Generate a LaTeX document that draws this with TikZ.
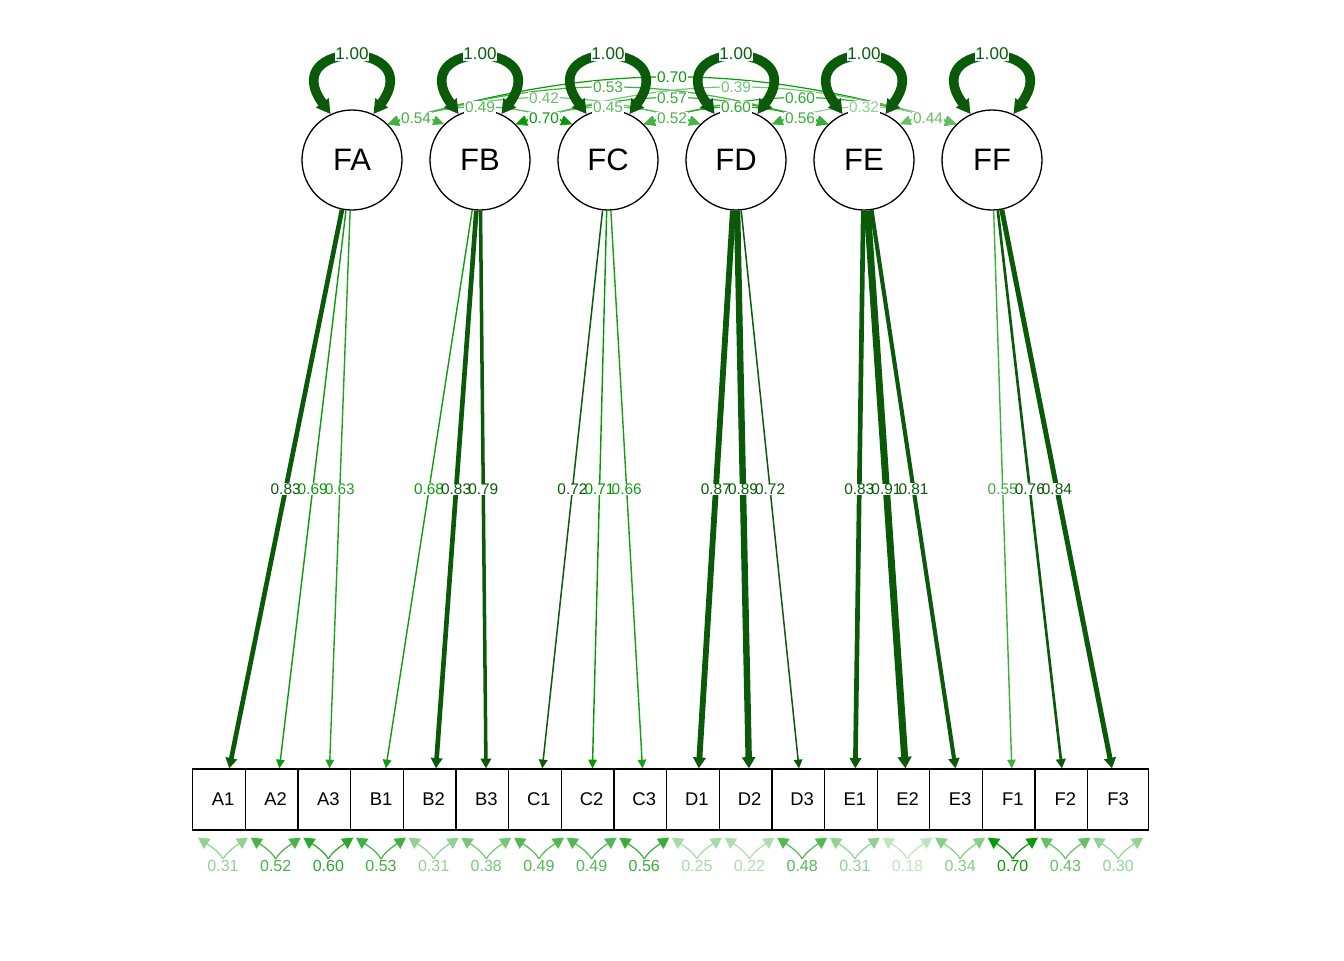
\documentclass[tikz,border=0pt]{standalone}
\usepackage{fontspec}
\setmainfont{Liberation Sans}
\usetikzlibrary{arrows.meta,calc}
\definecolor{G}{RGB}{0,150,0}
\definecolor{D}{RGB}{10,90,10}
\begin{document}
\begin{tikzpicture}[x=0.5pt,y=-0.5pt,
  lat/.style={circle,draw,line width=0.65pt,minimum size=50pt,inner sep=0pt,fill=white,font=\fontsize{15.5}{16}\selectfont},
  obs/.style={rectangle,draw,line width=0.65pt,minimum width=30.35pt,minimum height=30.5pt,inner sep=0pt,fill=white,font=\fontsize{9.2}{10}\selectfont},
  lab/.style={fill=white,inner sep=0.4pt,font=\fontsize{7.7}{8}\selectfont},
  lbg/.style={fill=white,inner sep=0.2pt,font=\fontsize{7.7}{8}\selectfont},
  ltx/.style={inner sep=0.4pt,font=\fontsize{7.7}{8}\selectfont},
  vlab/.style={fill=white,inner sep=0.4pt,font=\fontsize{8.5}{9}\selectfont},
  rlab/.style={fill=white,inner sep=0.4pt,font=\fontsize{8}{9}\selectfont},
  ld/.style={-{Triangle[length=4pt 0.5,width=3.6pt 0.9]}},
  thin/.style={line width=0.7pt},
  cv/.style={line width=0.6pt,{Triangle[length=5.5pt,width=4.8pt]}-{Triangle[length=5.5pt,width=4.8pt]}},
  vl/.style={D,line width=4.8pt,{Triangle[length=7pt,width=7.5pt]}-{Triangle[length=7pt,width=7.5pt]}},
  rs/.style={line width=0.6pt,{Triangle[length=5.5pt,width=6pt]}-{Triangle[length=5.5pt,width=6pt]}}
]
\useasboundingbox (0,0) rectangle (1344,960);
% latent variables
\node[lat] (FA) at (352,160) {FA};
\node[lat] (FB) at (480,160) {FB};
\node[lat] (FC) at (608,160) {FC};
\node[lat] (FD) at (736,160) {FD};
\node[lat] (FE) at (864,160) {FE};
\node[lat] (FF) at (992,160) {FF};
% observed variables
\node[obs] (A1) at (223.05,799.5) {A1};
\node[obs] (A2) at (275.70,799.5) {A2};
\node[obs] (A3) at (328.35,799.5) {A3};
\node[obs] (B1) at (381.00,799.5) {B1};
\node[obs] (B2) at (433.65,799.5) {B2};
\node[obs] (B3) at (486.30,799.5) {B3};
\node[obs] (C1) at (538.95,799.5) {C1};
\node[obs] (C2) at (591.60,799.5) {C2};
\node[obs] (C3) at (644.25,799.5) {C3};
\node[obs] (D1) at (696.90,799.5) {D1};
\node[obs] (D2) at (749.55,799.5) {D2};
\node[obs] (D3) at (802.20,799.5) {D3};
\node[obs] (E1) at (854.85,799.5) {E1};
\node[obs] (E2) at (907.50,799.5) {E2};
\node[obs] (E3) at (960.15,799.5) {E3};
\node[obs] (F1) at (1012.80,799.5) {F1};
\node[obs] (F2) at (1065.45,799.5) {F2};
\node[obs] (F3) at (1118.10,799.5) {F3};
% loadings (label backgrounds placed on the edges, texts drawn afterwards)
\draw[ld,D,line width=2.34pt] (FA) -- (A1) node[lbg,pos=0.5] (lA1) {\phantom{0.83}};
\draw[ld,G!96,thin] (FA) -- (A2) node[lbg,pos=0.5] (lA2) {\phantom{0.69}};
\draw[ld,G!88,thin] (FA) -- (A3) node[lbg,pos=0.5] (lA3) {\phantom{0.63}};
\draw[ld,G!94,thin] (FB) -- (B1) node[lbg,pos=0.5] (lB1) {\phantom{0.68}};
\draw[ld,D,line width=2.34pt] (FB) -- (B2) node[lbg,pos=0.5] (lB2) {\phantom{0.83}};
\draw[ld,D,line width=1.76pt] (FB) -- (B3) node[lbg,pos=0.5] (lB3) {\phantom{0.79}};
\draw[ld,D,line width=0.75pt] (FC) -- (C1) node[lbg,pos=0.5] (lC1) {\phantom{0.72}};
\draw[ld,G!99,thin] (FC) -- (C2) node[lbg,pos=0.5] (lC2) {\phantom{0.71}};
\draw[ld,G!92,thin] (FC) -- (C3) node[lbg,pos=0.5] (lC3) {\phantom{0.66}};
\draw[ld,D,line width=2.92pt] (FD) -- (D1) node[lbg,pos=0.5] (lD1) {\phantom{0.87}};
\draw[ld,D,line width=3.21pt] (FD) -- (D2) node[lbg,pos=0.5] (lD2) {\phantom{0.89}};
\draw[ld,D,line width=0.75pt] (FD) -- (D3) node[lbg,pos=0.5] (lD3) {\phantom{0.72}};
\draw[ld,D,line width=2.34pt] (FE) -- (E1) node[lbg,pos=0.5] (lE1) {\phantom{0.83}};
\draw[ld,D,line width=3.5pt] (FE) -- (E2) node[lbg,pos=0.5] (lE2) {\phantom{0.91}};
\draw[ld,D,line width=2.05pt] (FE) -- (E3) node[lbg,pos=0.5] (lE3) {\phantom{0.81}};
\draw[ld,G!76,thin] (FF) -- (F1) node[lbg,pos=0.5] (lF1) {\phantom{0.55}};
\draw[ld,D,line width=1.33pt] (FF) -- (F2) node[lbg,pos=0.5] (lF2) {\phantom{0.76}};
\draw[ld,D,line width=2.49pt] (FF) -- (F3) node[lbg,pos=0.5] (lF3) {\phantom{0.84}};
\foreach \n/\v/\c in {A1/0.83/D,A2/0.69/G!96,A3/0.63/G!88,B1/0.68/G!94,B2/0.83/D,B3/0.79/D,C1/0.72/D,C2/0.71/G!99,C3/0.66/G!92,D1/0.87/D,D2/0.89/D,D3/0.72/D,E1/0.83/D,E2/0.91/D,E3/0.81/D,F1/0.55/G!76,F2/0.76/D,F3/0.84/D}{
  \node[ltx,text=\c] at (l\n) {\v};
}
% covariances
\draw[cv,G!97] (FA.45) to[bend left=16.3] node[lab,pos=0.5]{0.70} (FF.135);
\draw[cv,G!74] (FA.45) to[bend left=16.5] node[lab,pos=0.5]{0.53} (FE.135);
\draw[cv,G!54] (FB.45) to[bend left=16.5] node[lab,pos=0.5]{0.39} (FF.135);
\draw[cv,G!58] (FA.45) to[bend left=16.5] node[lab,pos=0.5]{0.42} (FD.135);
\draw[cv,G!79] (FB.45) to[bend left=16.5] node[lab,pos=0.5]{0.57} (FE.135);
\draw[cv,G!83] (FC.45) to[bend left=16.5] node[lab,pos=0.5]{0.60} (FF.135);
\draw[cv,G!68] (FA.45) to[bend left=18] node[lab,pos=0.5]{0.49} (FC.135);
\draw[cv,G!63] (FB.45) to[bend left=18] node[lab,pos=0.5]{0.45} (FD.135);
\draw[cv,G!83] (FC.45) to[bend left=18] node[lab,pos=0.5]{0.60} (FE.135);
\draw[cv,G!44] (FD.45) to[bend left=18] node[lab,pos=0.5]{0.32} (FF.135);
\draw[cv,G!75] (FA.45) to[bend left=21] node[lab,pos=0.5]{0.54} (FB.135);
\draw[cv,G!97] (FB.45) to[bend left=21] node[lab,pos=0.5]{0.70} (FC.135);
\draw[cv,G!72] (FC.45) to[bend left=21] node[lab,pos=0.5]{0.52} (FD.135);
\draw[cv,G!78] (FD.45) to[bend left=21] node[lab,pos=0.5]{0.56} (FE.135);
\draw[cv,G!61] (FE.45) to[bend left=21] node[lab,pos=0.5]{0.44} (FF.135);
% latent variances
\draw[vl] (FA.115) .. controls +(-55,-75) and +(55,-75) .. (FA.65) node[vlab,text=D,pos=0.5,yshift=2pt]{1.00};
\draw[vl] (FB.115) .. controls +(-55,-75) and +(55,-75) .. (FB.65) node[vlab,text=D,pos=0.5,yshift=2pt]{1.00};
\draw[vl] (FC.115) .. controls +(-55,-75) and +(55,-75) .. (FC.65) node[vlab,text=D,pos=0.5,yshift=2pt]{1.00};
\draw[vl] (FD.115) .. controls +(-55,-75) and +(55,-75) .. (FD.65) node[vlab,text=D,pos=0.5,yshift=2pt]{1.00};
\draw[vl] (FE.115) .. controls +(-55,-75) and +(55,-75) .. (FE.65) node[vlab,text=D,pos=0.5,yshift=2pt]{1.00};
\draw[vl] (FF.115) .. controls +(-55,-75) and +(55,-75) .. (FF.65) node[vlab,text=D,pos=0.5,yshift=2pt]{1.00};
% residual variances
\foreach \n/\v/\p in {A1/0.31/43,A2/0.52/72,A3/0.60/83,B1/0.53/74,B2/0.31/43,B3/0.38/53,C1/0.49/68,C2/0.49/68,C3/0.56/78,D1/0.25/35,D2/0.22/31,D3/0.48/67,E1/0.31/43,E2/0.18/25,E3/0.34/47,F1/0.70/97,F2/0.43/60,F3/0.30/42}{
  \draw[rs,G!\p] ($(\n.south)+(-25,7)$) .. controls +(40,27) and +(-40,27) .. ($(\n.south)+(25,7)$) node[rlab,pos=0.5,yshift=-4pt]{\v};
}
\end{tikzpicture}
\end{document}
